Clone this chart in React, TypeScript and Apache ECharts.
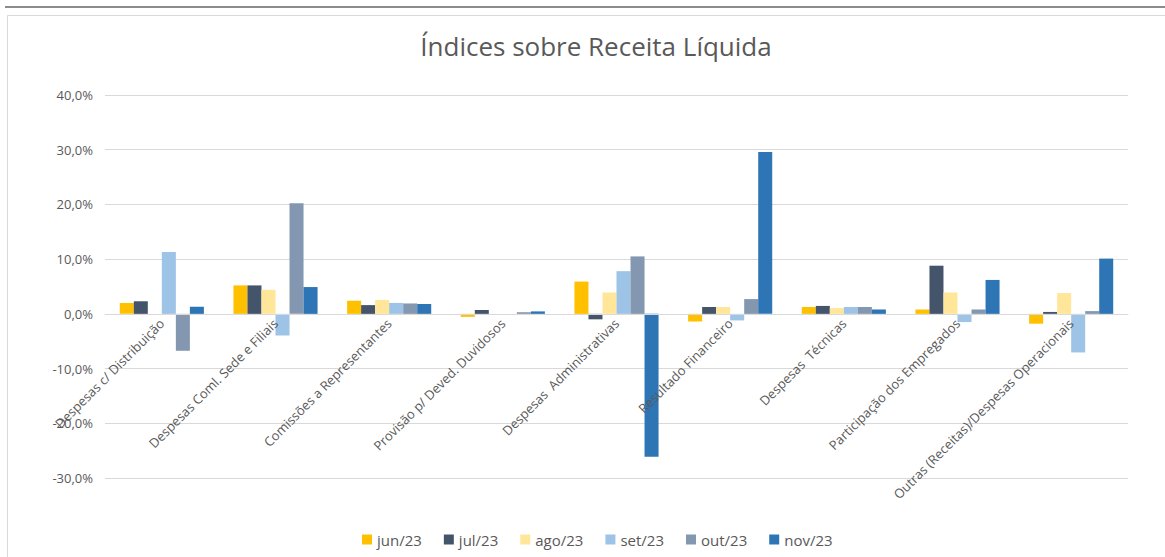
import React, { useEffect, useRef } from "react";
import * as echarts from "echarts";

const categories = [
  "Despesas c/ Distribuição",
  "Despesas Coml. Sede e Filiais",
  "Comissões a Representantes",
  "Provisão p/ Deved. Duvidosos",
  "Despesas  Administrativas",
  "Resultado Financeiro",
  "Despesas  Técnicas",
  "Participação dos Empregados",
  "Outras (Receitas)/Despesas Operacionais",
];

const seriesNames = ["jun/23", "jul/23", "ago/23", "set/23", "out/23", "nov/23"];

const jun = [2.0, 5.2, 2.4, -0.55, 5.9, -1.4, 1.25, 0.8, -1.8];
const jul = [2.3, 5.2, 1.6, 0.7, -1.0, 1.25, 1.45, 8.8, 0.35];
const ago = [0, 4.4, 2.55, 0, 3.9, 1.25, 1.05, 3.9, 3.8];
const set = [11.3, -3.95, 2.0, 0, 7.8, -1.2, 1.25, -1.5, -7.05];
const out = [-6.75, 20.2, 1.9, 0.3, 10.5, 2.7, 1.25, 0.8, 0.5];
const nov = [1.3, 4.9, 1.8, 0.45, -26.1, 29.6, 0.8, 6.2, 10.1];

const seriesValues = [jun, jul, ago, set, out, nov];
const colors = ["#FFC000", "#44546A", "#FFE699", "#9DC3E6", "#8497B0", "#2E75B6"];

const FONT = "'Open Sans', 'Noto Sans', sans-serif";

export default function App() {
  const ref = useRef<HTMLDivElement>(null);

  useEffect(() => {
    if (!ref.current) return;
    const chart = echarts.init(ref.current, undefined, { renderer: "svg" });
    chart.setOption({
      animation: false,
      backgroundColor: "#ffffff",
      textStyle: { fontFamily: FONT },
      title: {
        text: "Índices sobre Receita Líquida",
        left: 591,
        top: 28,
        textAlign: "center",
        textStyle: { fontFamily: FONT, fontSize: 26, fontWeight: "normal", color: "#595959" },
      },
      graphic: [
        {
          type: "line",
          shape: { x1: 5, y1: 7, x2: 1165, y2: 7 },
          style: { stroke: "#8C8C8C", lineWidth: 2 },
        },
        {
          type: "rect",
          shape: { x: 7.5, y: 15.5, width: 1170, height: 560 },
          style: { stroke: "#D9D9D9", fill: "none", lineWidth: 1 },
        },
      ],
      legend: {
        data: seriesNames,
        bottom: 5,
        left: 357,
        icon: "rect",
        itemWidth: 10,
        itemHeight: 10,
        itemGap: 22,
        textStyle: { fontFamily: FONT, fontSize: 15, color: "#595959" },
      },
      grid: { left: 105, right: 37, top: 95, bottom: 79, containLabel: false, outerBoundsMode: "none" },
      xAxis: {
        type: "category",
        data: categories,
        position: "bottom",
        offset: -164,
        axisLine: { onZero: false, lineStyle: { color: "#D9D9D9" } },
        axisTick: { show: false },
        axisLabel: {
          interval: 0,
          rotate: 45,
          margin: 7,
          fontFamily: FONT,
          fontSize: 13,
          color: "#595959",
          hideOverlap: false,
        },
        z: 10,
      },
      yAxis: {
        type: "value",
        min: -30,
        max: 40,
        interval: 10,
        axisLine: { show: false },
        axisTick: { show: false },
        splitLine: { lineStyle: { color: "#D9D9D9" } },
        axisLabel: {
          margin: 12,
          fontFamily: FONT,
          fontSize: 13,
          color: "#595959",
          formatter: (v: number) => v.toFixed(1).replace(".", ",") + "%",
        },
      },
      series: seriesNames.map((name, i) => ({
        name,
        type: "bar",
        data: seriesValues[i],
        itemStyle: { color: colors[i] },
        barGap: "0%",
        barCategoryGap: "26%",
      })),
    });
    return () => chart.dispose();
  }, []);

  return (
    <div
      ref={ref}
      style={{ position: "fixed", left: 0, top: 0, width: 1165, height: 557 }}
    />
  );
}
